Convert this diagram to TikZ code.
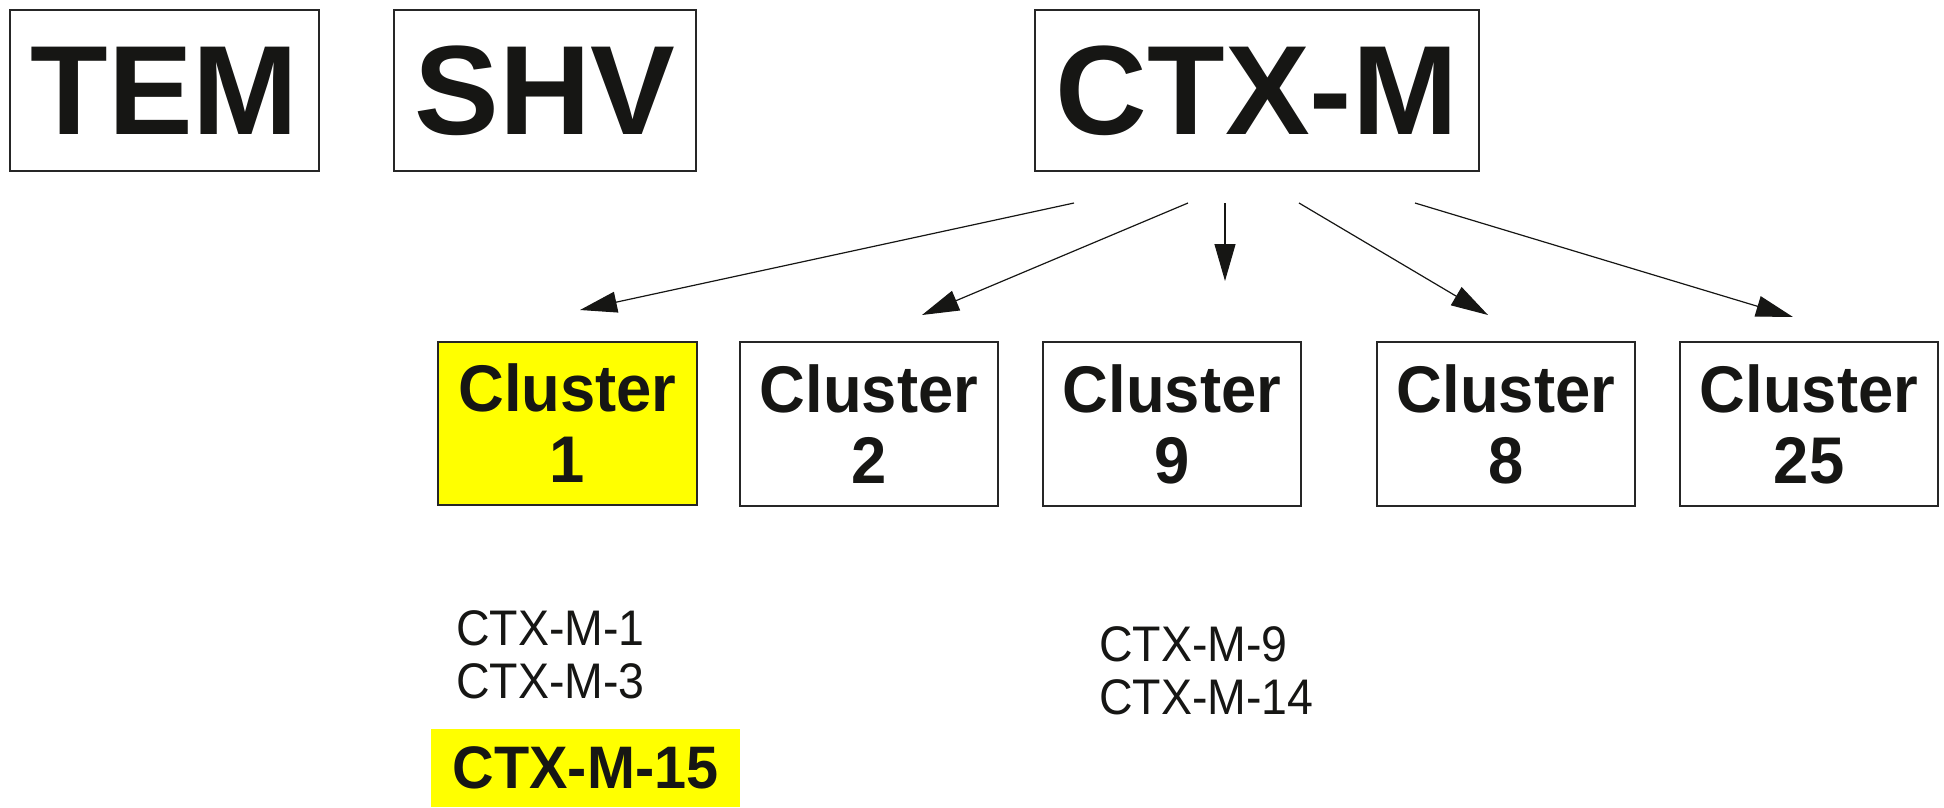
\documentclass[tikz,border=0pt]{standalone}
\usepackage{fontspec}
\setmainfont{Liberation Sans}
\newfontfamily\narrowfont[FakeStretch=0.93]{Liberation Sans}
\newfontfamily\semifont[FakeStretch=0.96]{Liberation Sans}
\usetikzlibrary{arrows.meta}
\definecolor{ink}{HTML}{161614}
\definecolor{hl}{HTML}{FFFF00}
\begin{document}
\begin{tikzpicture}[x=1pt,y=-1pt,
  bigbox/.style={draw=black!85, line width=1.3pt, inner sep=0pt, minimum height=161pt,
    font=\fontsize{127}{127}\selectfont\bfseries, text=ink},
  clusterbox/.style={draw=black!85, line width=1.3pt, inner sep=0pt, minimum width=258pt, minimum height=164pt,
    align=center, font=\semifont\fontsize{66}{71}\selectfont\bfseries, text=ink},
  member/.style={anchor=base west, inner sep=0pt, font=\narrowfont\fontsize{50}{50}\selectfont, text=ink},
  conn/.style={line width=1.2pt, draw=ink, -{Triangle[length=37pt,width=21pt]}}
]
\useasboundingbox (0,0) rectangle (1944,807);

% top boxes
\node[bigbox, minimum width=309pt] (tem) at (164.5,90.5) {TEM};
\node[bigbox, minimum width=302pt] (shv) at (545,90.5) {SHV};
\node[bigbox, minimum width=444pt] (ctxm) at (1257,90.5) {CTX-M};

% clusters
\node[clusterbox, fill=hl, minimum width=259pt, minimum height=163pt] (c1) at (567.5,423.5) {Cluster\\1};
\node[clusterbox] (c2) at (869,424) {Cluster\\2};
\node[clusterbox] (c9) at (1172,424) {Cluster\\9};
\node[clusterbox] (c8) at (1506,424) {Cluster\\8};
\node[clusterbox] (c25) at (1809,424) {Cluster\\25};

% arrow endpoints
\coordinate (s1) at (1074,203);
\coordinate (s2) at (1188,203);
\coordinate (s3) at (1225,203);
\coordinate (s4) at (1299,203);
\coordinate (s5) at (1415,203);
\coordinate (t1) at (580,310);
\coordinate (t2) at (922,315);
\coordinate (t3) at (1225,281);
\coordinate (t4) at (1488,315);
\coordinate (t5) at (1793,317);

\draw[conn] (s1) -- (t1);
\draw[conn] (s2) -- (t2);
\draw[conn] (s3) -- (t3);
\draw[conn] (s4) -- (t4);
\draw[conn] (s5) -- (t5);

% members
\node[member] (m1) at (456,645) {CTX-M-1};
\node[member] (m3) at (456,698) {CTX-M-3};
\node[member] (m9) at (1099,661) {CTX-M-9};
\node[member] (m14) at (1099,714) {CTX-M-14};
\node[fill=hl, inner sep=0pt, minimum width=309pt, minimum height=78pt,
  font=\semifont\fontsize{60}{60}\selectfont\bfseries, text=ink] (m15) at (585.5,768) {CTX-M-15};
\end{tikzpicture}
\end{document}
